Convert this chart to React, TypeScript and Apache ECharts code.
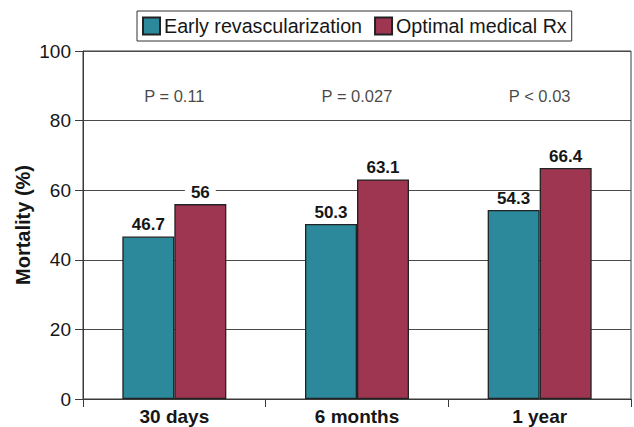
import React, { useEffect, useRef } from "react";
import * as echarts from "echarts";

const categories = ["30 days", "6 months", "1 year"];
const earlyRevasc = [46.7, 50.3, 54.3];
const optimalMedical = [56, 63.1, 66.4];
const pValueLabels = ["P = 0.11", "P = 0.027", "P < 0.03"];
const pValueLevel = [87, 87, 87];
const yTicks = { min: 0, max: 100, interval: 20 };

const FONT = "'Liberation Sans', Arial, Helvetica, sans-serif";
const TEXT = "#161616";
const LINE = "#3a3a3a";

export default function App() {
  const ref = useRef<HTMLDivElement>(null);

  useEffect(() => {
    if (!ref.current) return;
    const chart = echarts.init(ref.current, undefined, { renderer: "svg" });
    chart.setOption({
      animation: false,
      backgroundColor: "#fff",
      textStyle: { fontFamily: FONT },
      legend: {
        data: ["Early revascularization", "Optimal medical Rx"],
        left: 137,
        top: 11,
        icon: "rect",
        itemWidth: 17,
        itemHeight: 17,
        itemGap: 12,
        padding: [5, 5, 5, 5],
        borderColor: "#333",
        borderWidth: 1,
        textStyle: { fontSize: 19.7, color: TEXT, fontFamily: FONT, padding: [0, 0, 0, -1] },
      },
      grid: { left: 83, right: 3, top: 51, bottom: 28, show: true, borderColor: LINE, borderWidth: 1 },
      xAxis: {
        type: "category",
        data: categories,
        axisLine: { lineStyle: { color: LINE, width: 1 } },
        axisTick: { show: true, length: 8, interval: 0, lineStyle: { color: LINE } },
        axisLabel: { fontSize: 19, fontWeight: "bold", color: TEXT, margin: 8, fontFamily: FONT },
      },
      yAxis: {
        type: "value",
        min: yTicks.min,
        max: yTicks.max,
        interval: yTicks.interval,
        name: "Mortality (%)",
        nameLocation: "middle",
        nameGap: 50,
        nameMoveOverlap: false,
        nameTextStyle: { fontSize: 20, fontWeight: "bold", color: TEXT, fontFamily: FONT },
        axisLine: { show: true, lineStyle: { color: LINE, width: 1 } },
        axisTick: { show: true, length: 8, lineStyle: { color: LINE } },
        axisLabel: { fontSize: 19, color: TEXT, margin: 12, fontFamily: FONT },
        splitLine: { show: true, lineStyle: { color: "#4a4a4a", width: 1 } },
      },
      series: [
        {
          name: "Early revascularization",
          type: "bar",
          data: earlyRevasc,
          barWidth: 52,
          barGap: "0%",
          itemStyle: { color: "#2C889B", borderColor: "#222", borderWidth: 1.3 },
          label: {
            show: true,
            position: "top",
            distance: 3,
            fontSize: 17,
            fontWeight: "bold",
            color: TEXT,
            fontFamily: FONT,
          },
        },
        {
          name: "Optimal medical Rx",
          type: "bar",
          data: optimalMedical,
          barWidth: 52,
          barGap: "0%",
          itemStyle: { color: "#9E3652", borderColor: "#222", borderWidth: 1.3 },
          label: {
            show: true,
            position: "top",
            distance: 3,
            fontSize: 17,
            fontWeight: "bold",
            color: TEXT,
            fontFamily: FONT,
            backgroundColor: "#fff",
            padding: [0, 6],
          },
        },
        {
          name: "P values",
          type: "scatter",
          data: pValueLevel.map((v, i) => [categories[i], v]),
          symbolSize: 0,
          silent: true,
          label: {
            show: true,
            position: "inside",
            formatter: (p: any) => pValueLabels[p.dataIndex],
            fontSize: 16.5,
            color: TEXT,
            fontFamily: FONT,
          },
        },
      ],
    });
    return () => chart.dispose();
  }, []);

  return (
    <div
      ref={ref}
      style={{ position: "fixed", left: 0, top: 0, width: 634, height: 427, background: "#fff" }}
    />
  );
}
